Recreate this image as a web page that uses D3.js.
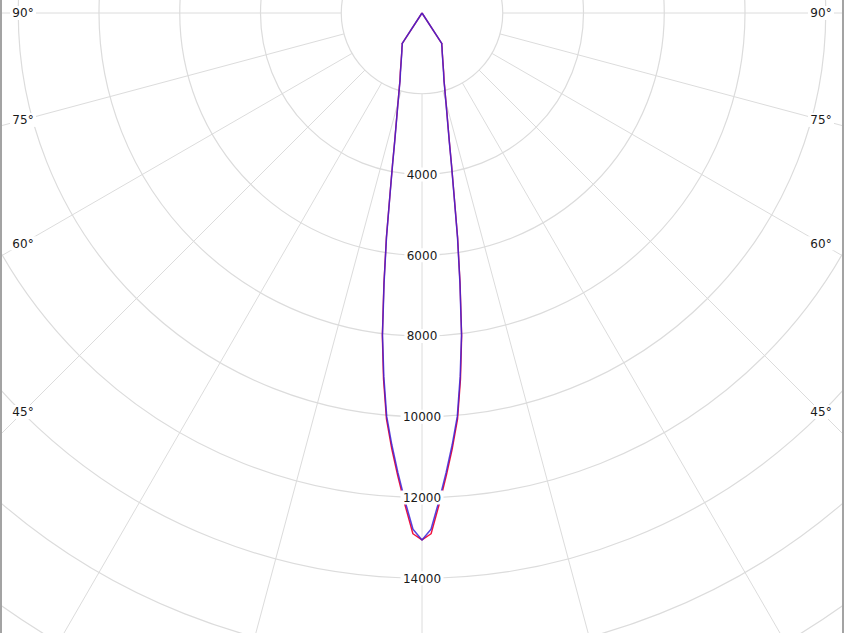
<!DOCTYPE html>
<html>
<head>
<meta charset="utf-8">
<script src="https://cdn.jsdelivr.net/npm/d3@7"></script>
<style>
  html, body { margin: 0; padding: 0; background: #fff; }
  svg { display: block; }
  text { font-family: "DejaVu Sans", Verdana, sans-serif; font-size: 12px; fill: #1a1a1a; }
</style>
</head>
<body>
<svg id="chart" width="844" height="633"></svg>
<script>
// gamma angles (degrees from nadir)
const angles = [0, 1, 2, 3, 4, 5, 6, 7, 8, 9, 10, 11, 12, 13, 14, 15, 16, 17, 18,
  20, 22, 24, 26, 28, 30, 32, 33, 34, 40, 50, 60, 70, 80, 90];

// C0-C180 plane (red)
const planeC0 = [13050, 12900, 12180, 11480, 10800, 10100, 9120, 8060, 6780, 5640, 4570, 3830, 3260, 2860, 2550, 2300, 2090, 1920, 1770,
  1570, 1400, 1265, 1155, 1065, 995, 925, 910, 0, 0, 0, 0, 0, 0, 0];

// C90-C270 plane (blue)
const planeC90 = [13050, 12790, 12090, 11400, 10720, 10030, 9050, 8030, 6750, 5620, 4560, 3820, 3250, 2850, 2540, 2290, 2080, 1910, 1760,
  1560, 1390, 1260, 1150, 1060, 990, 920, 905, 0, 0, 0, 0, 0, 0, 0];

const rings = [2000, 4000, 6000, 8000, 10000, 12000, 14000, 16000, 18000, 20000];
const ringLabels = [4000, 6000, 8000, 10000, 12000, 14000];
const spokeAngles = d3.range(0, 360, 15);
const angleLabels = [90, 75, 60, 45];

const width = 844, height = 633;
const cx = 422, cy = 13;
const svg = d3.select("#chart");

const r = d3.scaleLinear().domain([0, 2000]).range([0, 80.75]);

const g = svg.append("g").attr("transform", `translate(${cx},${cy})`);

// rings
g.selectAll("circle.ring")
  .data(rings)
  .join("circle")
  .attr("class", "ring")
  .attr("r", d => r(d))
  .style("fill", "none")
  .style("stroke", "#dcdcdc")
  .style("stroke-width", 1.2);

// spokes, from the first ring outwards (angle from nadir)
const toXY = (deg, rad) => {
  const a = deg * Math.PI / 180;
  return [-rad * Math.sin(a), rad * Math.cos(a)];
};
g.selectAll("line.spoke")
  .data(spokeAngles)
  .join("line")
  .attr("class", "spoke")
  .attr("x1", d => toXY(d, r(2000))[0])
  .attr("y1", d => toXY(d, r(2000))[1])
  .attr("x2", d => toXY(d, r(30000))[0])
  .attr("y2", d => toXY(d, r(30000))[1])
  .style("stroke", "#dcdcdc")
  .style("stroke-width", 1);

// curves
const radial = d3.lineRadial()
  .angle(d => d[0])
  .radius(d => r(d[1]))
  .curve(d3.curveLinear);

function planePoints(values) {
  const right = angles.map((a, i) => [Math.PI - a * Math.PI / 180, values[i]]).reverse();
  const left = angles.slice(1).map((a, i) => [Math.PI + a * Math.PI / 180, values[i + 1]]);
  return right.concat(left);
}

g.append("path")
  .attr("d", radial(planePoints(planeC0)))
  .style("fill", "none")
  .style("stroke", "#f0103c")
  .style("stroke-width", 1.4)
  .style("stroke-linejoin", "round");

g.append("path")
  .attr("d", radial(planePoints(planeC90)))
  .style("fill", "none")
  .style("stroke", "#3a22d8")
  .style("stroke-width", 1.5)
  .style("stroke-opacity", 0.85)
  .style("stroke-linejoin", "round");

// ring labels with white backing
const rl = g.selectAll("g.rlabel")
  .data(ringLabels)
  .join("g")
  .attr("class", "rlabel")
  .attr("transform", d => `translate(0,${r(d)})`);
rl.append("rect")
  .attr("x", d => -String(d).length * 3.9 - 2)
  .attr("y", -7)
  .attr("width", d => String(d).length * 7.8 + 4)
  .attr("height", 14)
  .style("fill", "#fff");
rl.append("text")
  .attr("text-anchor", "middle")
  .attr("dy", "0.36em")
  .text(d => d);

// angle labels on both sides, along the spoke at |dx| = 399
const labelDx = 399;
[-1, 1].forEach(side => {
  const al = g.selectAll(`g.alabel${side}`)
    .data(angleLabels)
    .join("g")
    .attr("class", `alabel${side}`)
    .attr("transform", d => {
      const a = d * Math.PI / 180;
      return `translate(${side * labelDx},${labelDx / Math.tan(a)})`;
    });
  al.append("rect")
    .attr("x", -13).attr("y", -7)
    .attr("width", 26).attr("height", 14)
    .style("fill", "#fff");
  al.append("text")
    .attr("text-anchor", "middle")
    .attr("dy", "0.36em")
    .text(d => d + "°");
});

// side borders
svg.append("rect").attr("x", 0).attr("y", 0).attr("width", 2).attr("height", height).style("fill", "#a3a3a3");
svg.append("rect").attr("x", width - 2).attr("y", 0).attr("width", 2).attr("height", height).style("fill", "#a3a3a3");
</script>
</body>
</html>
